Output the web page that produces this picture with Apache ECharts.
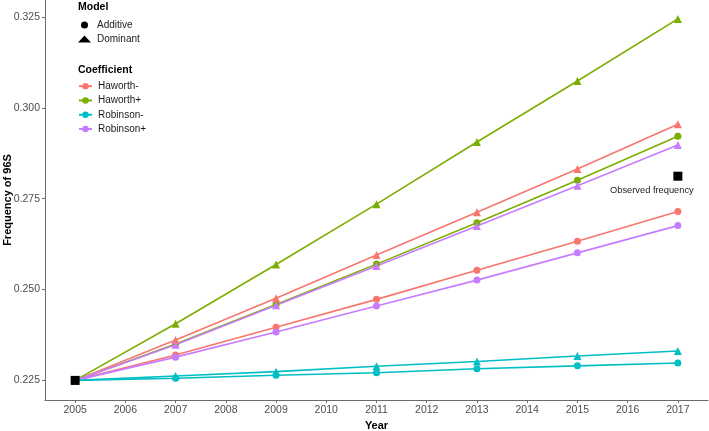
<!DOCTYPE html>
<html>
<head>
<meta charset="utf-8">
<script src="https://cdn.jsdelivr.net/npm/echarts@6/dist/echarts.min.js"></script>
<style>html,body{margin:0;padding:0;background:#fff}#c{width:709px;height:431px}</style>
</head>
<body>
<div id="c"></div>
<script>
const years = [2005, 2007, 2009, 2011, 2013, 2015, 2017];
const xTicks = [2005, 2006, 2007, 2008, 2009, 2010, 2011, 2012, 2013, 2014, 2015, 2016, 2017];
const yTicks = [0.225, 0.250, 0.275, 0.300, 0.325];

const coefficients = ['Haworth-', 'Haworth+', 'Robinson-', 'Robinson+'];
const models = ['Additive', 'Dominant'];

const haworthMinusAdd  = [0.225, 0.2320, 0.2396, 0.2473, 0.2553, 0.2633, 0.2715];
const haworthPlusAdd   = [0.225, 0.2350, 0.2459, 0.2570, 0.2684, 0.2801, 0.2922];
const robinsonMinusAdd = [0.225, 0.2256, 0.2264, 0.2271, 0.2282, 0.2290, 0.2298];
const robinsonPlusAdd  = [0.225, 0.2314, 0.2383, 0.2455, 0.2526, 0.2601, 0.2676];

const haworthMinusDom  = [0.225, 0.2361, 0.2476, 0.2595, 0.2713, 0.2832, 0.2955];
const haworthPlusDom   = [0.225, 0.2406, 0.2569, 0.2735, 0.2906, 0.3074, 0.3245];
const robinsonMinusDom = [0.225, 0.2262, 0.2274, 0.2289, 0.2302, 0.2317, 0.2331];
const robinsonPlusDom  = [0.225, 0.2348, 0.2457, 0.2565, 0.2675, 0.2786, 0.2898];

const obsYears = [2005, 2017];
const obsValues = [0.225, 0.2812];
const obsLabel = 'Observed frequency';

const colors = {'Haworth-': '#F8766D', 'Haworth+': '#7CAE00', 'Robinson-': '#00BFC4', 'Robinson+': '#C77CFF'};
const FONT = '"Liberation Sans", Arial, sans-serif';

function pairs(xs, ys) { return xs.map((x, i) => [x, ys[i]]); }

const addData = {'Haworth-': haworthMinusAdd, 'Haworth+': haworthPlusAdd, 'Robinson-': robinsonMinusAdd, 'Robinson+': robinsonPlusAdd};
const domData = {'Haworth-': haworthMinusDom, 'Haworth+': haworthPlusDom, 'Robinson-': robinsonMinusDom, 'Robinson+': robinsonPlusDom};

const series = [];
models.forEach((m, i) => {
  series.push({name: m, type: 'line', data: [], symbol: i === 0 ? 'circle' : 'triangle', itemStyle: {color: '#000'}, lineStyle: {width: 0}});
});
coefficients.forEach(c => {
  series.push({
    name: c, type: 'line', data: pairs(years, addData[c]),
    symbol: 'circle', symbolSize: 7, showSymbol: true,
    lineStyle: {width: 1.6, color: colors[c]}, itemStyle: {color: colors[c]},
    emphasis: {disabled: true}, animation: false, z: 2
  });
});
coefficients.forEach(c => {
  series.push({
    name: c, type: 'line', data: pairs(years, domData[c]),
    symbol: 'triangle', symbolSize: 8,
    lineStyle: {width: 1.6, color: colors[c]}, itemStyle: {color: colors[c]},
    emphasis: {disabled: true}, animation: false, z: 2
  });
});
series.push({
  name: obsLabel, type: 'scatter', symbol: 'rect', symbolSize: 9,
  itemStyle: {color: '#000', opacity: 1}, z: 5, animation: false,
  emphasis: {disabled: true},
  data: pairs(obsYears, obsValues).map((p, i) => ({
    value: p,
    label: i === obsYears.length - 1 ? {show: true, position: 'bottom', offset: [-26, 0], formatter: obsLabel, fontFamily: FONT, fontSize: 9.3, color: '#1a1a1a'} : {show: false}
  }))
});

const chart = echarts.init(document.getElementById('c'), null, {renderer: 'canvas'});
chart.setOption({
  backgroundColor: '#fff',
  animation: false,
  grid: {left: 45, right: 1, top: 0, bottom: 31, containLabel: false, outerBoundsMode: 'none'},
  xAxis: {
    type: 'value', min: 2004.4, max: 2017.6,
    name: 'Year', nameLocation: 'middle', nameGap: 20, nameMoveOverlap: false,
    nameTextStyle: {fontFamily: FONT, fontWeight: 'bold', fontSize: 11, color: '#000'},
    splitLine: {show: false},
    axisLine: {lineStyle: {color: '#6b6b6b', width: 1}},
    axisTick: {show: true, length: 3, lineStyle: {color: '#6b6b6b'}, customValues: xTicks},
    axisLabel: {customValues: xTicks, formatter: v => String(v), fontFamily: FONT, fontSize: 10.5, color: '#4d4d4d', margin: 5}
  },
  yAxis: {
    type: 'value', min: 0.2196, max: 0.3297,
    name: 'Frequency of 96S', nameLocation: 'middle', nameGap: 32, nameRotate: 90, nameMoveOverlap: false,
    nameTextStyle: {fontFamily: FONT, fontWeight: 'bold', fontSize: 11, color: '#000'},
    splitLine: {show: false},
    axisLine: {show: true, lineStyle: {color: '#6b6b6b', width: 1}},
    axisTick: {show: true, length: 3, lineStyle: {color: '#6b6b6b'}, customValues: yTicks},
    axisLabel: {customValues: yTicks, formatter: v => v.toFixed(3), fontFamily: FONT, fontSize: 10.5, color: '#4d4d4d', margin: 5}
  },
  legend: [
    {
      data: [{name: 'Additive', icon: 'circle'}, {name: 'Dominant', icon: 'triangle'}],
      orient: 'vertical', left: 78, top: 18, padding: 0,
      itemWidth: 13, itemHeight: 7, itemGap: 0,
      textStyle: {fontFamily: FONT, fontSize: 10, color: '#1a1a1a', lineHeight: 14, padding: [0, 0, 0, 1]},
      selectedMode: false
    },
    {
      data: coefficients,
      orient: 'vertical', left: 78, top: 79, padding: 0,
      itemWidth: 13, itemHeight: 8, itemGap: 0,
      textStyle: {fontFamily: FONT, fontSize: 10, color: '#1a1a1a', lineHeight: 14.3, padding: [0, 0, 0, 1]},
      selectedMode: false
    }
  ],
  graphic: [
    {type: 'text', left: 78, top: 2, style: {text: 'Model', font: 'bold 10.5px ' + FONT, fill: '#000'}},
    {type: 'text', left: 78, top: 65, style: {text: 'Coefficient', font: 'bold 10.5px ' + FONT, fill: '#000'}}
  ],
  series: series
});
</script>
</body>
</html>
